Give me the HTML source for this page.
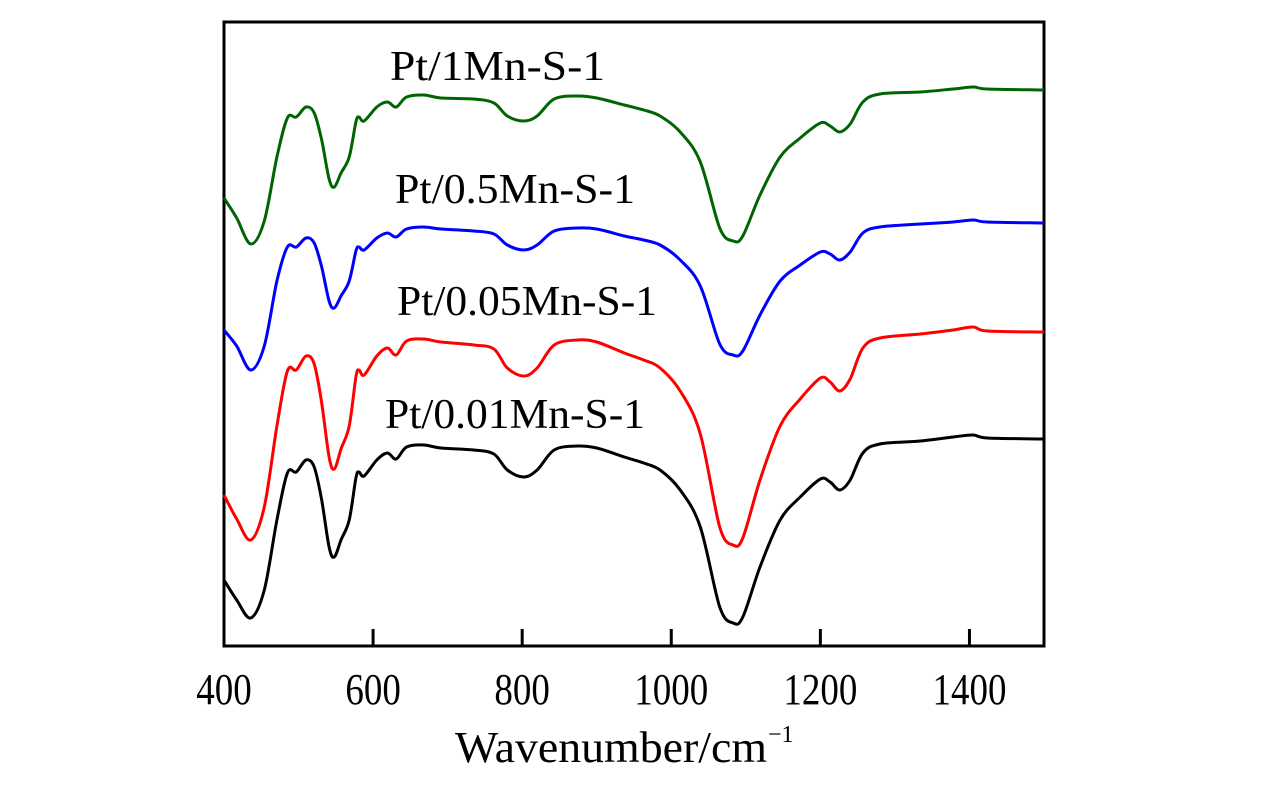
<!DOCTYPE html>
<html><head><meta charset="utf-8"><style>
html,body{margin:0;padding:0;background:#fff;width:1276px;height:787px;overflow:hidden}
svg{display:block}
text{font-family:"Liberation Serif","DejaVu Serif",serif;fill:#000}
</style></head><body>
<svg id="chart" width="1276" height="787"></svg>
<script>
const wavenumbers=[400,417,436,454,471,485,497,510,521,531,541,548,557,568,577,581,588,605,619,631,645,668,691,735,762,780,802,820,843,874,900,937,963,985,1012,1039,1065,1083,1096,1119,1146,1173,1200,1213,1226,1240,1257,1280,1334,1378,1405,1424,1500];
const seriesBlack=[66,46,28,56,126,173,174,186,179,146,99,89,106,126,168,174,170,186,193,187,199,201,198,196,192,176,169,176,196,200,198,189,183,176,156,119,39,23,29,79,126,149,167,164,156,166,193,202,205,209,211,208,207];
const seriesRed=[151,127,106,139,220,275,276,290,282,243,189,177,197,220,269,276,271,290,298,291,305,307,304,301,297,278,270,278,301,306,304,293,286,278,255,212,119,101,108,166,220,247,268,264,255,267,298,308,312,316,319,315,314];
const seriesBlue=[316,300,276,300,365,399,399,408,403,379,345,338,350,365,395,399,396,408,413,409,417,419,417,415,412,401,396,401,415,418,417,410,406,401,386,360,302,291,295,331,365,381,394,392,386,394,413,419,422,424,426,424,423];
const seriesGreen=[448,428,402,425,489,528,529,539,533,506,467,459,473,489,524,529,525,539,544,539,549,551,548,547,543,530,525,530,547,550,548,541,536,530,514,484,418,405,410,451,489,508,523,520,514,522,544,552,554,557,559,557,556];
const xTicks=[400,600,800,1000,1200,1400];
const seriesNames=["Pt/0.01Mn-S-1","Pt/0.05Mn-S-1","Pt/0.5Mn-S-1","Pt/1Mn-S-1"];

const svg=document.getElementById('chart');
const NS='http://www.w3.org/2000/svg';
const L=224,R=1044,T=22,B=646;
const xs=v=>L+(v-400)/(1500-400)*(R-L);
const ys=v=>B-v/624*(B-T);
function mk(tag,attrs){const e=document.createElementNS(NS,tag);for(const k in attrs)e.setAttribute(k,attrs[k]);svg.appendChild(e);return e;}

const frame=mk('rect',{x:L,y:T,width:R-L,height:B-T,fill:'none',stroke:'#000','stroke-width':3});



xTicks.forEach(t=>{
  const tk=mk('line',{x1:xs(t),x2:xs(t),y1:B,y2:B-17,stroke:'#000','stroke-width':3});
  
  
  const s=String(t);
  const lb=mk('text',{x:xs(t),y:704,'text-anchor':'middle','font-size':44,textLength:s.length*18.5,lengthAdjust:'spacingAndGlyphs'});
  lb.textContent=s;
  
  
});

function smoothPath(pts){
  let d='M'+pts[0][0].toFixed(1)+','+pts[0][1].toFixed(1);
  for(let i=0;i<pts.length-1;i++){
    const p0=pts[Math.max(0,i-1)],p1=pts[i],p2=pts[i+1],p3=pts[Math.min(pts.length-1,i+2)];
    const c1x=p1[0]+(p2[0]-p0[0])/6,c1y=p1[1]+(p2[1]-p0[1])/6;
    const c2x=p2[0]-(p3[0]-p1[0])/6,c2y=p2[1]-(p3[1]-p1[1])/6;
    d+='C'+c1x.toFixed(1)+','+c1y.toFixed(1)+' '+c2x.toFixed(1)+','+c2y.toFixed(1)+' '+p2[0].toFixed(1)+','+p2[1].toFixed(1);
  }
  return d;
}

const series=[
 {vals:seriesBlack,color:'#000000',name:'black-series',lx:385,ly:428,lw:260},
 {vals:seriesRed,color:'#ff0000',name:'red-series',lx:397,ly:315,lw:260},
 {vals:seriesBlue,color:'#0000ff',name:'blue-series',lx:395,ly:203,lw:240},
 {vals:seriesGreen,color:'#006400',name:'green-series',lx:390,ly:80,lw:215}
];
series.forEach((s,i)=>{
  const pts=s.vals.map((v,j)=>[xs(wavenumbers[j]),ys(v)]);
  const p=mk('path',{d:smoothPath(pts),fill:'none',stroke:s.color,'stroke-width':3,'stroke-linejoin':'round'});
  
  
  const lb=mk('text',{x:s.lx,y:s.ly,'font-size':42,textLength:s.lw,lengthAdjust:'spacingAndGlyphs'});
  lb.textContent=seriesNames[i];
  
  
});

const title=mk('text',{x:455,y:762,'font-size':44,textLength:312,lengthAdjust:'spacingAndGlyphs'});
title.textContent='Wavenumber/cm';


const sup=mk('text',{x:768,y:742,'font-size':24});
sup.textContent='−1';


</script>
</body></html>
